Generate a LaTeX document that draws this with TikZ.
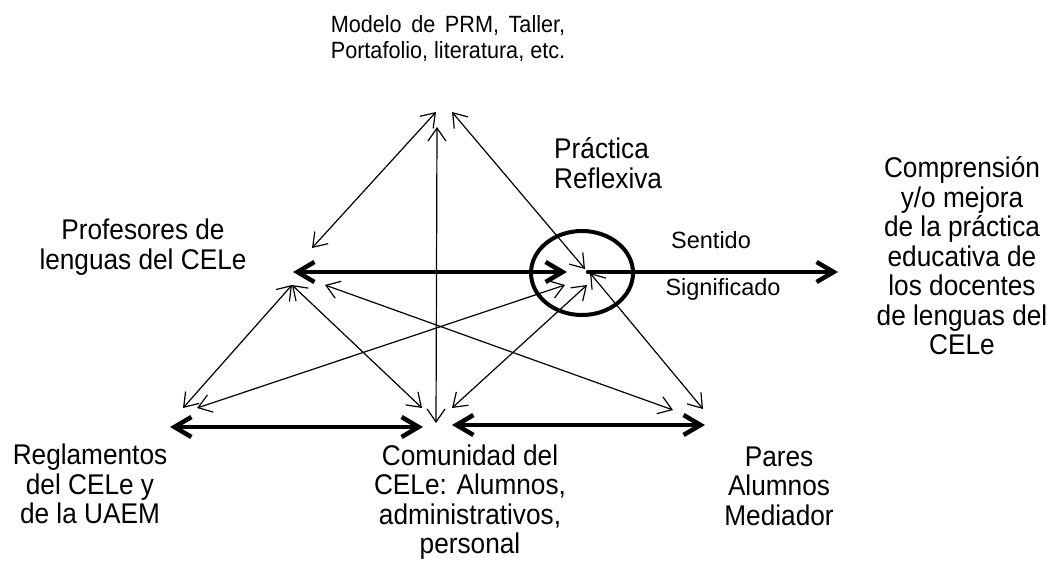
\documentclass[tikz,border=0pt]{standalone}
\usepackage{fontspec}
\setmainfont{Liberation Sans}
\newfontfamily\angosta[FakeStretch=0.92]{Liberation Sans}
\usepackage{calc}
\usetikzlibrary{arrows.meta}

\tikzset{
  relacion/.style={line width=1.2pt, {Straight Barb[length=13pt,width=18pt]}-{Straight Barb[length=13pt,width=18pt]}},
  flecha/.style={line width=4.5pt, line cap=round, {Straight Barb[length=17pt,width=20pt]}-{Straight Barb[length=17pt,width=20pt]}},
  grande/.style={inner sep=0pt, align=center, font=\angosta\fontsize{28.5}{29.5}\selectfont},
  chico/.style={inner sep=0pt, font=\fontsize{23.5}{27}\selectfont}
}

\begin{document}
\begin{tikzpicture}[x=1pt, y=-1pt]
			%%%%% START %%%%%
			\useasboundingbox (0, 0) rectangle (1056, 562);
			
			\node[inner sep=0pt, align=center, font=\angosta\fontsize{23.5}{26}\selectfont] (mod) at (448, 38)
				{\makebox[\widthof{Portafolio, literatura, etc.}][s]{Modelo de PRM, Taller,}\\Portafolio, literatura, etc.};
			\node[grande, align=left, anchor=west] (prac) at (554, 163) {Práctica\\Reflexiva};
			\node[grande] (prof) at (143, 247) {Profesores de\\lenguas del CELe};
			\node[grande] (comp) at (962, 256) {Comprensión\\y/o mejora\\ de la práctica\\educativa de\\los docentes\\de lenguas del\\CELe};
			\node[grande] (regl) at (90, 484) {Reglamentos\\del CELe y\\de la UAEM};
			\node[grande] (comu) at (470, 502) {Comunidad del\\CELe: Alumnos,\\administrativos,\\personal};
			\node[grande] (pares) at (779, 486) {Pares\\Alumnos\\Mediador};
			\node[chico] (sent) at (711, 240) {Sentido};
			\node[chico] (sig) at (723, 289) {Significado};
			
			% puntos de llegada
			\coordinate (mod-a) at (436, 112);
			\coordinate (mod-b) at (437, 127);
			\coordinate (mod-c) at (452, 112);
			\coordinate (prof-a) at (312, 248);
			\coordinate (prof-b) at (292, 285);
			\coordinate (prof-c) at (325, 285);
			\coordinate (prof-d) at (293, 272);
			\coordinate (prac-a) at (585, 269);
			\coordinate (prac-b) at (590, 273);
			\coordinate (prac-c) at (565, 285);
			\coordinate (prac-d) at (587, 285);
			\coordinate (prac-e) at (567, 272);
			\coordinate (prac-f) at (588, 272);
			\coordinate (comp-a) at (838, 272);
			\coordinate (regl-a) at (183, 408);
			\coordinate (regl-b) at (197, 408);
			\coordinate (regl-c) at (170, 427);
			\coordinate (comu-a) at (436, 423);
			\coordinate (comu-b) at (422, 408);
			\coordinate (comu-c) at (452, 408);
			\coordinate (comu-d) at (423, 427);
			\coordinate (comu-e) at (452, 425);
			\coordinate (pares-a) at (703, 409);
			\coordinate (pares-b) at (673, 410);
			\coordinate (pares-c) at (705, 425);
			
			\draw[relacion] (prof-a) -- (mod-a);
			\draw[relacion] (mod-b) -- (comu-a);
			\draw[relacion] (mod-c) -- (prac-a);
			\draw[relacion] (prac-b) -- (pares-a);
			\draw[relacion] (regl-a) -- (prof-b);
			\draw[relacion] (prof-b) -- (comu-b);
			\draw[relacion] (prof-c) -- (pares-b);
			\draw[relacion] (regl-b) -- (prac-c);
			\draw[relacion] (comu-c) -- (prac-d);
			
			\draw[flecha] (prof-d) -- (prac-e);
			\draw[flecha, -{Straight Barb[length=17pt,width=20pt]}] (prac-f) -- (comp-a);
			\draw[flecha] (regl-c) -- (comu-d);
			\draw[flecha] (comu-e) -- (pares-c);
			
			\draw[line width=4pt] (582, 273) ellipse (51 and 42);
			%%%%% END %%%%%
\end{tikzpicture}
\end{document}
